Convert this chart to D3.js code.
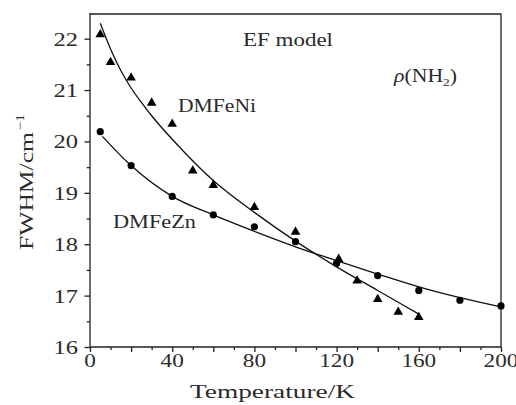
<!DOCTYPE html>
<html>
<head>
<meta charset="utf-8">
<script src="https://cdn.jsdelivr.net/npm/d3@7"></script>
<style>
  body { margin: 0; background: #fff; }
  svg text { font-family: "Liberation Serif", serif; fill: #2a2a2a; }
</style>
</head>
<body>
<svg id="chart"></svg>
<script>
// measured points, DMFeNi (triangles)
var niTemp = [5, 10, 20, 30, 40, 50, 60, 80, 100, 121, 130, 140, 150, 160];
var niFwhm = [22.08, 21.54, 21.24, 20.75, 20.34, 19.43, 19.15, 18.72, 18.24, 17.71, 17.29, 16.93, 16.68, 16.58];
// measured points, DMFeZn (circles)
var znTemp = [5, 20, 40, 60, 80, 100, 120, 140, 160, 180, 200];
var znFwhm = [20.19, 19.53, 18.93, 18.57, 18.34, 18.05, 17.63, 17.39, 17.10, 16.91, 16.80];
// fitted curves (EF model)
var niFitTemp = [5, 10, 15, 20, 25, 30, 45, 60, 80, 100, 120, 140, 160];
var niFitFwhm = [22.30, 21.80, 21.38, 21.04, 20.76, 20.50, 19.83, 19.24, 18.62, 18.06, 17.56, 17.10, 16.64];
var znFitTemp = [6, 20, 40, 60, 80, 100, 120, 140, 160, 180, 200];
var znFitFwhm = [20.10, 19.53, 18.93, 18.57, 18.25, 17.95, 17.68, 17.42, 17.17, 16.96, 16.78];
// ticks
var xLabelTicks = [0, 40, 80, 120, 160, 200];
var yLabelTicks = [16, 17, 18, 19, 20, 21, 22];

var W = 516, H = 405;
var svg = d3.select("#chart").attr("width", W).attr("height", H);

var x = d3.scaleLinear().domain([0, 200]).range([90, 501]);
var y = d3.scaleLinear().domain([16, 22.48]).range([347, 14]);
var ink = "#222";

// frame: top and right lines
svg.append("path")
    .attr("d", "M" + x(0) + "," + y(22.48) + "H" + x(200) + "V" + y(16))
    .attr("fill", "none").attr("stroke", ink).attr("stroke-width", 1.3);

// bottom axis
var xAxis = svg.append("g").attr("transform", "translate(0," + y(16) + ")");
xAxis.call(d3.axisBottom(x).tickValues(d3.range(0, 201, 10)).tickSize(3).tickFormat(""));
xAxis.selectAll(".tick line").filter(d => d % 20 === 0).attr("y2", 5);
xAxis.select(".domain").attr("d", "M" + x(0) + ",0H" + x(200));
xAxis.selectAll("path, line").attr("stroke", ink).attr("stroke-width", 1.3);

xAxis.selectAll(".lbl").data(xLabelTicks).enter().append("text")
    .attr("class", "lbl")
    .attr("x", d => x(d)).attr("y", 20)
    .attr("text-anchor", "middle")
    .attr("font-size", 18)
    .attr("textLength", d => String(d).length * 11.6)
    .attr("lengthAdjust", "spacingAndGlyphs")
    .text(d => d);

// left axis
var yAxis = svg.append("g").attr("transform", "translate(" + x(0) + ",0)");
yAxis.call(d3.axisLeft(y).tickValues(d3.range(16, 22.01, 0.5)).tickSize(3.3).tickFormat(""));
yAxis.selectAll(".tick line").filter(d => d % 1 === 0).attr("x2", -5.5);
yAxis.select(".domain").attr("d", "M0," + y(16) + "V" + (y(22.48) - 1));
yAxis.selectAll("path, line").attr("stroke", ink).attr("stroke-width", 1.3);

yAxis.selectAll(".lbl").data(yLabelTicks).enter().append("text")
    .attr("class", "lbl")
    .attr("x", -12).attr("y", d => y(d) + 7)
    .attr("text-anchor", "end")
    .attr("font-size", 18)
    .attr("textLength", 24.5)
    .attr("lengthAdjust", "spacingAndGlyphs")
    .text(d => d);

// axis titles
svg.append("text")
    .attr("x", 190).attr("y", 398)
    .attr("font-size", 18)
    .attr("textLength", 165).attr("lengthAdjust", "spacingAndGlyphs")
    .text("Temperature/K");

var yt = svg.append("g").attr("transform", "translate(33,250) rotate(-90)");
yt.append("text")
    .attr("x", 0).attr("y", 0)
    .attr("font-size", 18)
    .attr("textLength", 118).attr("lengthAdjust", "spacingAndGlyphs")
    .text("FWHM/cm");
yt.append("text")
    .attr("x", 120).attr("y", -9)
    .attr("font-size", 12)
    .attr("textLength", 16).attr("lengthAdjust", "spacingAndGlyphs")
    .text("\u22121");

// annotations
svg.append("text").attr("x", 243).attr("y", 46).attr("font-size", 18)
    .attr("textLength", 90).attr("lengthAdjust", "spacingAndGlyphs")
    .text("EF model");
svg.append("text").attr("x", 178).attr("y", 112).attr("font-size", 18)
    .attr("textLength", 78).attr("lengthAdjust", "spacingAndGlyphs")
    .text("DMFeNi");
svg.append("text").attr("x", 113).attr("y", 228).attr("font-size", 18)
    .attr("textLength", 83).attr("lengthAdjust", "spacingAndGlyphs")
    .text("DMFeZn");

var rho = svg.append("text").attr("x", 394).attr("y", 82).attr("font-size", 18)
    .attr("textLength", 63).attr("lengthAdjust", "spacingAndGlyphs");
rho.append("tspan").attr("font-style", "italic").text("\u03c1");
rho.append("tspan").text("(NH");
rho.append("tspan").attr("font-size", 11).attr("dy", 4).text("2");
rho.append("tspan").attr("dy", -4).text(")");

// fitted curves
var line = d3.line()
    .x(d => x(d[0])).y(d => y(d[1]))
    .curve(d3.curveMonotoneX);

svg.append("path")
    .datum(d3.zip(niFitTemp, niFitFwhm))
    .attr("fill", "none").attr("stroke", "#111").attr("stroke-width", 1.3)
    .attr("d", line);
svg.append("path")
    .datum(d3.zip(znFitTemp, znFitFwhm))
    .attr("fill", "none").attr("stroke", "#111").attr("stroke-width", 1.3)
    .attr("d", line);

// markers
svg.selectAll(".tri").data(d3.zip(niTemp, niFwhm)).enter().append("path")
    .attr("class", "tri")
    .attr("transform", d => "translate(" + x(d[0]) + "," + y(d[1]) + ")")
    .attr("d", d3.symbol(d3.symbolTriangle, 40))
    .attr("fill", "#000");
svg.selectAll(".dot").data(d3.zip(znTemp, znFwhm)).enter().append("circle")
    .attr("class", "dot")
    .attr("cx", d => x(d[0])).attr("cy", d => y(d[1]))
    .attr("r", 3.6)
    .attr("fill", "#000");
</script>
</body>
</html>
